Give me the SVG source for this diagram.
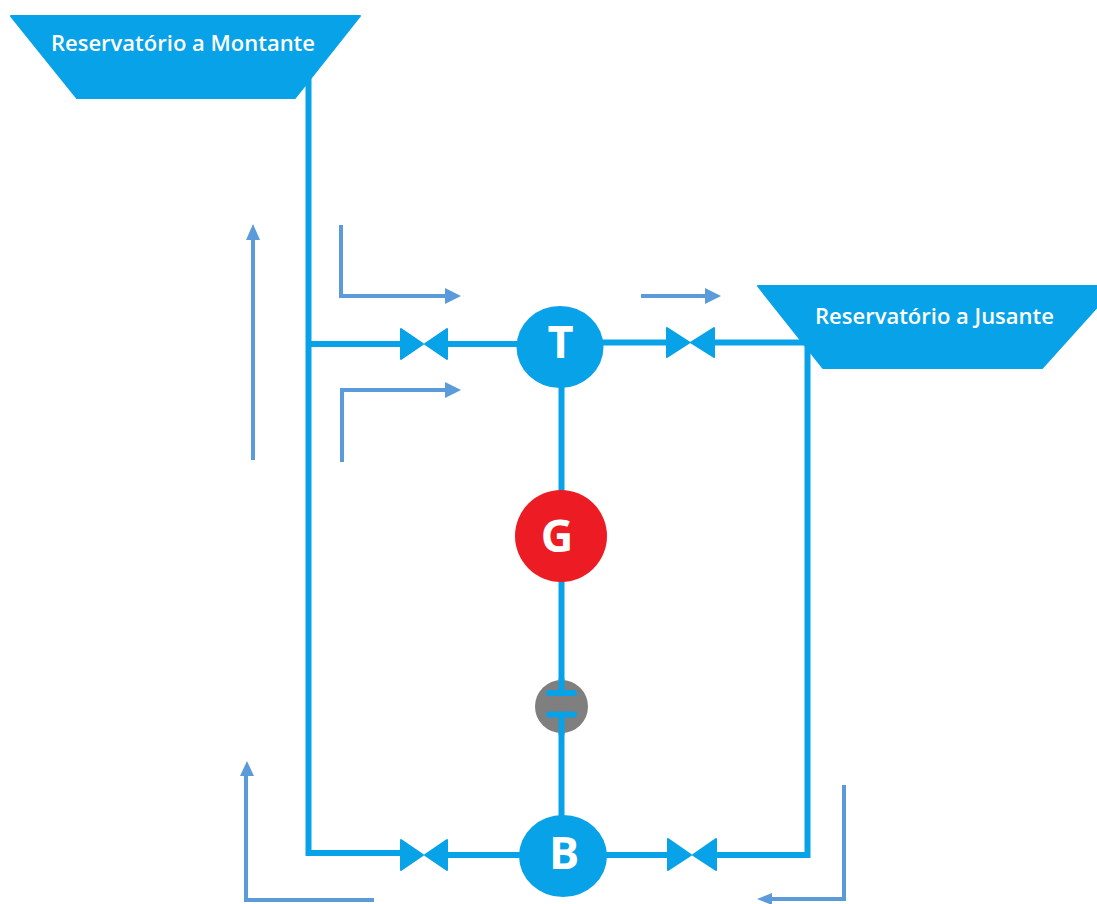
<svg xmlns="http://www.w3.org/2000/svg" width="1097" height="904" viewBox="0 0 1097 904">
<style>
.w{fill:#fff;font-family:"Open Sans","Noto Sans","Liberation Sans",sans-serif;text-anchor:middle}
.lbl{font-weight:600;font-size:22px}
.big{font-weight:700;font-size:45px}
.res{fill:#08a2e8;stroke:#08a2e8;stroke-width:2;stroke-linejoin:round}
.c{fill:#08a2e8}
.pipe{fill:none;stroke:#08a2e8;stroke-width:6}
.flow{fill:none;stroke:#5b9bd9;stroke-width:4}
.fh{fill:#5b9bd9}
.v{fill:#08a2e8;stroke:#08a2e8;stroke-width:2;stroke-linejoin:round}
</style>
<rect width="1097" height="904" fill="#fff"/>
<g id="connectors">
<path class="pipe" d="M308.500 75V853H410M308.500 344H410M436 344H520M600 342.500H678M704 342.500H804M807.500 345V855H706M680 855H600M525 855H436M561.500 385V495M561.500 578V693M561.500 714V818"/>
</g>
<g id="flow-arrows">
<path class="flow" d="M253 460V238M341 225V296H446M342 462V390H446M641 296H706M374 900H246V775M844 785V899H771"/>
<path class="fh" d="M253 224L260 240H246ZM461 296L445 288V304ZM461 390L445 382V398ZM721 296L705 288V304ZM247 761L254 776H240ZM757 899L772 893V905Z"/>
</g>
<g id="res-montante"><path class="res" d="M11 16H360L295 98H77Z"/><text class="w lbl" x="183" y="51">Reservatório a Montante</text></g>
<g id="res-jusante"><path class="res" d="M758 286H1097V307L1042 368H823Z"/><text class="w lbl" x="934.500" y="324">Reservatório a Jusante</text></g>
<g id="valve-1"><path class="v" d="M401 329L423 344L401 359ZM447 329L425 344L447 359Z"/></g>
<g id="valve-2"><path class="v" d="M667 328L689.500 342.500L667 357ZM714 328L691 342.500L714 357Z"/></g>
<g id="valve-3"><path class="v" d="M401 840L423 855L401 870ZM447 840L425 855L447 870Z"/></g>
<g id="valve-4"><path class="v" d="M668 839L691 855L668 870ZM716 839L693 855L716 870Z"/></g>
<g id="node-t"><ellipse class="c" cx="560" cy="347" rx="43.500" ry="41"/><text class="w big" x="560.500" y="358">T</text></g>
<g id="node-g"><circle cx="561" cy="536" r="46" fill="#ed1c24"/><text class="w big" x="557" y="552">G</text></g>
<g id="node-coupling"><circle cx="561.500" cy="706.500" r="26.500" fill="#7f7f7f"/><path class="pipe" d="M561.500 680V693M549 693H574M549 714.500H574M561.500 714.500V734" stroke-width="5" stroke-linecap="round"/></g>
<g id="node-b"><ellipse class="c" cx="563" cy="856" rx="44" ry="41"/><text class="w big" x="564" y="869">B</text></g>
</svg>
